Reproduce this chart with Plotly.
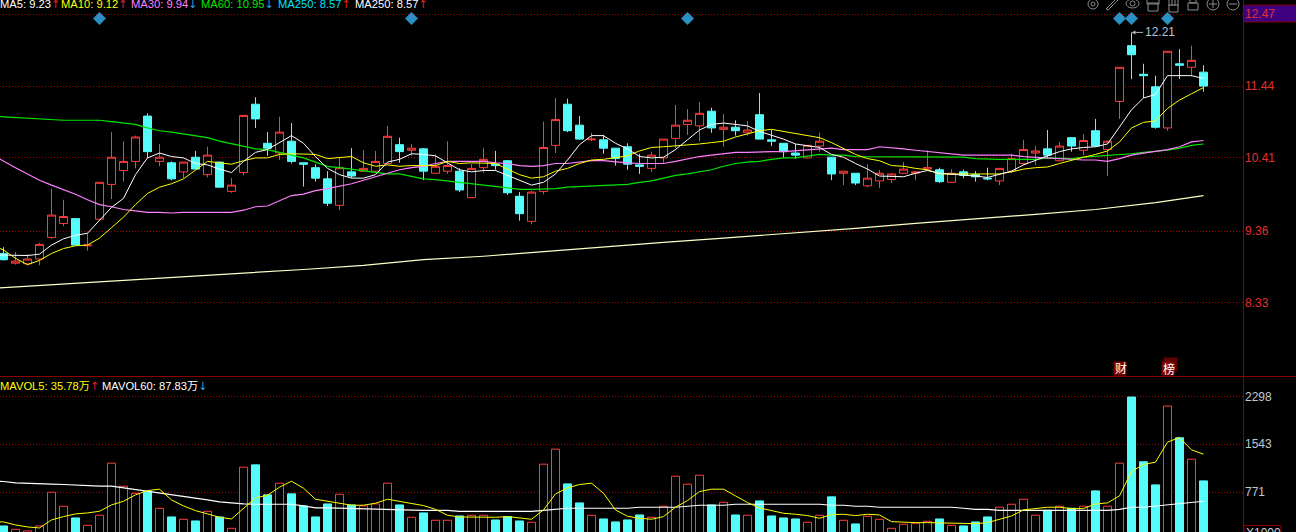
import plotly.graph_objects as go

days = list(range(101))
opens = [9.04,8.90,8.89,8.96,9.27,9.47,9.54,9.15,9.53,10.03,
10.23,10.36,11.01,10.36,10.34,10.21,10.42,10.17,10.35,9.93,
10.20,11.18,10.62,10.48,10.65,10.34,10.27,10.11,9.73,10.21,
10.22,10.22,10.33,10.60,10.52,10.54,10.19,10.22,10.22,9.84,
10.27,10.32,10.37,9.86,9.50,9.93,10.59,11.18,10.88,10.67,
10.67,10.55,10.57,10.31,10.26,10.41,10.69,10.89,10.87,11.08,
10.82,10.85,10.77,11.03,10.67,10.62,10.48,10.41,10.58,10.42,
10.19,10.19,10.01,10.08,10.10,10.19,10.19,10.25,10.24,10.06,
10.21,10.17,10.12,10.08,10.22,10.33,10.48,10.54,10.37,10.70,
10.52,10.80,10.53,11.22,12.02,11.61,11.43,10.84,11.76,11.71,11.64]
closes = [8.95,8.93,8.96,9.17,9.59,9.57,9.16,9.16,10.06,10.42,
10.36,10.71,10.50,10.42,10.11,10.35,10.25,10.45,9.99,10.02,
11.02,10.97,10.55,10.78,10.36,10.32,10.12,9.76,10.27,10.15,
10.26,10.36,10.72,10.50,10.55,10.22,10.29,10.30,9.95,10.26,
10.39,10.30,9.91,9.61,9.92,10.56,10.96,10.80,10.68,10.68,
10.55,10.40,10.32,10.29,10.45,10.68,10.88,10.95,11.05,10.84,
10.85,10.80,10.81,10.68,10.65,10.50,10.45,10.59,10.65,10.18,
10.22,10.05,10.12,10.19,10.18,10.25,10.21,10.27,10.07,10.19,
10.16,10.14,10.11,10.26,10.40,10.53,10.51,10.45,10.58,10.58,
10.66,10.58,10.65,11.71,11.89,11.59,10.85,11.94,11.74,11.81,11.44]
highs = [9.13,9.06,9.03,9.19,9.97,9.81,9.54,9.33,10.06,10.78,
10.65,10.73,11.05,10.61,10.36,10.35,10.51,10.57,10.36,10.12,
11.02,11.28,10.78,11.00,10.91,10.34,10.32,10.22,10.41,10.55,
10.52,10.51,10.87,10.70,10.61,10.55,10.46,10.65,10.26,10.32,
10.55,10.51,10.38,9.92,9.94,10.93,11.27,11.26,11.01,10.77,
10.74,10.55,10.62,10.47,10.50,10.68,11.17,11.11,11.21,11.13,
11.04,10.95,10.94,11.34,10.81,10.62,10.61,10.59,10.77,10.42,
10.22,10.19,10.32,10.24,10.19,10.35,10.22,10.52,10.27,10.25,
10.24,10.22,10.27,10.26,10.47,10.67,10.58,10.81,10.64,10.70,
10.75,10.97,10.66,11.71,12.21,11.76,11.59,11.94,11.97,12.02,11.74]
lows = [8.94,8.88,8.87,8.87,9.25,9.43,9.16,9.08,9.53,9.82,
10.07,10.26,10.41,10.29,10.09,10.12,10.25,10.13,9.99,9.91,
10.16,10.84,10.44,10.38,10.33,10.00,10.07,9.72,9.66,10.12,
10.21,10.19,10.31,10.34,10.44,10.09,10.19,10.18,9.92,9.84,
10.19,10.24,9.88,9.51,9.46,9.89,10.48,10.78,10.67,10.65,
10.47,10.30,10.24,10.18,10.21,10.34,10.55,10.74,10.65,10.77,
10.57,10.73,10.73,10.68,10.58,10.42,10.40,10.40,10.50,10.09,
10.02,10.02,9.99,9.98,10.05,10.18,10.09,10.22,10.05,10.05,
10.12,10.07,10.09,10.02,10.19,10.31,10.31,10.40,10.36,10.50,
10.45,10.57,10.15,10.97,11.54,11.27,10.83,10.80,11.54,11.58,11.36]

# moving-average lines start one session before the first visible candle
line_days = [-1] + days
ma5 = [9.02,9.02,9.02,9.01,9.03,9.16,9.25,9.30,9.33,9.52,9.70,9.83,10.17,10.41,10.48,10.43,10.41,10.33,10.31,10.25,10.20,
10.36,10.49,10.53,10.63,10.73,10.62,10.43,10.26,10.17,10.12,10.12,10.17,10.35,10.39,10.47,10.46,10.44,
10.34,10.24,10.21,10.23,10.23,10.16,10.08,10.02,10.06,10.18,10.38,10.60,10.73,10.73,10.62,10.54,10.43,10.41,10.42,
10.53,10.67,10.81,10.89,10.91,10.89,10.87,10.79,10.74,10.68,10.61,10.59,10.56,10.46,10.42,10.33,10.25,
10.15,10.14,10.14,10.19,10.23,10.19,10.18,10.17,10.15,10.13,10.18,10.22,10.31,10.38,10.44,10.50,10.54,10.56,10.57,10.61,
10.85,11.10,11.27,11.32,11.59,11.59,11.59,11.55]
ma10 = [9.16,9.09,8.97,8.88,8.94,9.04,9.11,9.15,9.16,9.26,9.41,9.56,9.74,9.90,9.99,10.04,10.11,10.24,10.36,10.34,10.32,
10.37,10.41,10.41,10.46,10.47,10.46,10.46,10.40,10.41,10.43,10.34,10.29,10.31,10.29,10.30,10.30,10.30,
10.36,10.33,10.34,10.34,10.33,10.25,10.17,10.12,10.14,10.22,10.26,10.33,10.38,10.39,10.41,10.44,10.51,10.56,10.57,
10.58,10.59,10.61,10.63,10.65,10.71,10.75,10.80,10.82,10.79,10.75,10.72,10.70,10.63,10.54,10.46,10.40,
10.37,10.30,10.29,10.26,10.24,10.18,10.18,10.17,10.17,10.17,10.18,10.21,10.25,10.27,10.28,10.33,10.38,10.42,10.46,10.51,
10.64,10.84,10.92,10.94,11.12,11.24,11.33,11.42]
ma30 = [10.46,10.36,10.27,10.18,10.09,10.02,9.96,9.89,9.81,9.74,9.71,9.67,9.65,9.63,9.63,9.62,9.63,9.63,9.63,9.63,9.63,
9.66,9.71,9.72,9.80,9.87,9.89,9.94,9.97,10.00,10.04,10.09,10.14,10.19,10.24,10.27,10.29,10.33,
10.36,10.36,10.36,10.36,10.34,10.33,10.30,10.29,10.30,10.33,10.33,10.35,10.37,10.37,10.35,10.34,10.33,10.33,10.33,
10.36,10.40,10.43,10.45,10.47,10.49,10.49,10.50,10.50,10.50,10.51,10.52,10.54,10.55,10.53,10.53,10.53,
10.57,10.56,10.54,10.52,10.50,10.49,10.47,10.45,10.45,10.45,10.45,10.45,10.43,10.42,10.41,10.39,10.39,10.38,10.38,10.36,
10.40,10.45,10.48,10.50,10.53,10.57,10.64,10.66]
ma60 = [11.01,11.00,10.99,10.97,10.96,10.96,10.95,10.95,10.95,10.95,10.93,10.91,10.89,10.84,10.80,10.78,10.75,10.72,10.70,10.65,10.61,
10.57,10.54,10.53,10.49,10.46,10.41,10.35,10.29,10.27,10.25,10.22,10.21,10.18,10.18,10.15,10.11,10.10,
10.08,10.06,10.04,10.02,10.00,9.97,9.96,9.96,9.96,9.97,9.99,10.00,10.00,10.02,10.02,10.03,10.06,10.08,10.12,
10.16,10.18,10.21,10.24,10.29,10.33,10.35,10.36,10.39,10.41,10.41,10.44,10.46,10.45,10.45,10.43,10.43,
10.43,10.43,10.43,10.43,10.43,10.43,10.43,10.42,10.40,10.39,10.39,10.39,10.39,10.39,10.41,10.41,10.40,10.42,10.43,10.44,
10.45,10.47,10.49,10.50,10.52,10.55,10.59,10.61]
ma250_days = [-1,0,5,10,15,20,25,30,35,40,45,50,55,60,65,70,71,76,81,86,91,96,100]
ma250 = [8.54,8.55,8.60,8.65,8.71,8.76,8.81,8.87,8.95,9.00,9.07,9.13,9.20,9.26,9.32,9.39,9.40,9.47,9.53,9.60,9.67,9.77,9.87]

volume = [230,176,150,230,771,546,358,240,401,1236,867,754,786,513,374,337,310,465,374,192,
1172,1209,728,915,744,551,374,583,738,567,551,583,915,567,369,439,321,
321,390,401,401,326,380,310,289,1220,1461,904,599,401,342,294,326,406,369,546,
1027,899,1043,567,610,406,401,631,390,358,342,289,401,696,321,262,385,
337,192,257,273,305,342,240,230,294,374,530,578,658,401,481,546,513,546,792,546,
1236,2296,1258,888,2152,1643,1300,952]
mavol5 = [300,294,246,214,198,326,380,423,439,465,567,626,728,797,819,647,551,476,423,369,342,
514,679,722,851,947,835,658,626,594,562,562,594,658,626,583,556,497,
401,374,369,369,369,380,364,337,487,744,840,894,915,754,487,385,353,337,380,
530,637,781,819,819,712,605,519,476,433,417,396,353,412,417,396,417,
406,299,289,283,283,278,283,267,267,283,331,390,487,514,530,530,508,508,583,599,
712,1102,1215,1252,1573,1648,1450,1381]
mavol60 = [950,942,920,910,899,899,894,883,883,867,867,840,819,787,754,728,706,679,647,615,594,
583,578,578,578,578,551,519,519,514,503,497,497,497,481,481,481,481,
481,465,465,465,465,465,465,465,481,497,514,514,514,514,514,514,530,530,530,
530,546,562,562,562,578,578,578,578,578,578,578,578,562,562,546,546,
530,530,530,530,530,530,530,514,497,497,481,481,481,481,481,481,481,481,481,481,
497,530,530,551,572,594,610,626]

price_ticks = [12.47, 11.44, 10.41, 9.36, 8.33]
volume_ticks = [2298, 1543, 771]
signal_days = [8, 34, 57, 93, 94, 97]
signal_level = [12.41] * 6
peak_day = 94
peak_value = 12.21

for s in (opens, closes, highs, lows, volume):
    assert len(s) == 101, len(s)
for s in (ma5, ma10, ma30, ma60, mavol5, mavol60):
    assert len(s) == 102, len(s)

W, H, PLOT_R, DIV = 1296, 532, 1243, 376.5
RED = "#ff3c3c"; CYAN = "#54fcfc"; GRID = "#a00000"
DOTS = "1px,2px"
FONT = "Liberation Sans, Arial, Noto Sans CJK SC, sans-serif"
fx = lambda p: p / W
fy = lambda p: 1 - p / H

fig = go.Figure()
up = [c >= o for o, c in zip(opens, closes)]
fig.add_trace(go.Bar(x=days, y=volume, yaxis="y2", width=0.6667,
    marker=dict(color=["#000000" if u else CYAN for u in up],
                line=dict(color=[RED if u else CYAN for u in up], width=1))))
fig.add_trace(go.Scatter(x=line_days, y=mavol60, yaxis="y2", mode="lines", line=dict(color="#ffffff", width=1.2)))
fig.add_trace(go.Scatter(x=line_days, y=mavol5, yaxis="y2", mode="lines", line=dict(color="#ffff00", width=1)))
fig.add_trace(go.Candlestick(x=days, open=opens, high=highs, low=lows, close=closes, whiskerwidth=0,
    increasing=dict(line=dict(color=RED, width=1), fillcolor="#000000"),
    decreasing=dict(line=dict(color=CYAN, width=1), fillcolor=CYAN)))
for series, color, w in ((ma60, "#00e600", 1.2), (ma30, "#ff80ff", 1.2), (ma10, "#ffff00", 1), (ma5, "#ffffff", 1)):
    fig.add_trace(go.Scatter(x=line_days, y=series, mode="lines", line=dict(color=color, width=w)))
fig.add_trace(go.Scatter(x=ma250_days, y=ma250, mode="lines", line=dict(color="#ffffc8", width=1.2)))
fig.add_trace(go.Scatter(x=signal_days, y=signal_level, mode="markers",
    marker=dict(symbol="diamond", size=10, color="#2a90c6")))

ann = []
def label(px, py, text, color, size=11.2):
    ann.append(dict(x=fx(px), y=fy(py), xref="paper", yref="paper", text=text, showarrow=False, borderpad=0,
                    xanchor="left", yanchor="middle", font=dict(family=FONT, size=size, color=color)))

UP = "<span style='color:#e02020;font-family:DejaVu Sans'>↑</span>"
DN = "<span style='color:#2e9fd0;font-family:DejaVu Sans'>↓</span>"
for px, text, color in [(-1, "MA5: 9.23" + UP, "#ffffff"), (60, "MA10: 9.12" + UP, "#ffff00"),
                        (130, "MA30: 9.94" + DN, "#ff80ff"), (200, "MA60: 10.95" + DN, "#00e600"),
                        (277, "MA250: 8.57" + UP, "#00e0ff"), (354, "MA250: 8.57" + UP, "#ffffff")]:
    label(px, 4, text, color)
for px, text, color in [(-1, "MAVOL5: 35.78万" + UP, "#ffff00"), (101, "MAVOL60: 87.83万" + DN, "#ffffff")]:
    label(px, 387, text, color)
label(1245, 533, "X1000", "#c8d0d8", 12)
for px, text in [(1114, "财"), (1162, "榜")]:
    label(px, 369, text, "#ffffff", 12)
ann.append(dict(x=peak_day, y=peak_value, xref="x", yref="y", text=str(peak_value), showarrow=True,
                ax=28, ay=0, arrowhead=2, arrowsize=0.8, arrowwidth=1, arrowcolor="#b0b0b0",
                font=dict(family=FONT, size=12, color="#b4c4dc")))

shapes = []
def shape(kind, x0, y0, x1, y1, line="#8c8c8c", fill=None, w=1, layer="above"):
    shapes.append(dict(type=kind, xref="paper", yref="paper", x0=fx(x0), x1=fx(x1), y0=fy(y0), y1=fy(y1),
                       line=dict(color=line, width=w), fillcolor=fill, layer=layer))

shape("rect", 1243.5, 5, 1296, 22, line="#800000", fill="#3f0080", layer="below")
shape("line", 0, DIV, W, DIV, line="#8a0000", w=1)
shape("line", PLOT_R + 0.5, 0, PLOT_R + 0.5, H, line="#8a0000", w=1)
shape("rect", 1244, 525.5, 1281, 545, line="#8a0000", layer="below")
shape("rect", 1164, 358, 1177, 371, line="#600000", fill="#600000", layer="below")
shape("rect", 1114, 362, 1126, 375, line="#7c0000", fill="#7c0000", layer="below")
shape("rect", 1162, 362, 1174, 375, line="#7c0000", fill="#7c0000", layer="below")
# toolbar icons
shape("circle", 1088, -1, 1098, 9); shape("circle", 1091, 2, 1095, 6)
shape("line", 1106, 9, 1116, -1); shape("line", 1108, 10, 1118, 0); shape("line", 1106, 9, 1108, 10)
shape("circle", 1126, -1, 1139, 8); shape("circle", 1130, 1, 1135, 6)
shape("rect", 1148, 3, 1158, 11); shape("rect", 1147, -1, 1159, 4)
for hx in (1169, 1172, 1175, 1178):
    shape("line", hx, -1, hx, 6)
shape("rect", 1169, 5, 1178, 12)
shape("rect", 1188, 3, 1198, 10); shape("rect", 1190, -2, 1196, 3)
shape("circle", 1207, -2, 1219, 10); shape("line", 1209, 4, 1217, 4); shape("line", 1213, 0, 1213, 8)
shape("circle", 1227, -2, 1239, 10); shape("line", 1229, 4, 1237, 4)

fig.update_layout(
    width=W, height=H, margin=dict(l=0, r=0, t=0, b=0), showlegend=False,
    paper_bgcolor="#000000", plot_bgcolor="#000000", boxgap=0.3333, boxgroupgap=0, hovermode=False,
    annotations=ann, shapes=shapes,
    xaxis=dict(domain=[0, PLOT_R / W], range=[-0.29167, 103.29167], visible=False, anchor="y2",
               rangeslider=dict(visible=False), showgrid=False, zeroline=False),
    yaxis=dict(domain=[1 - DIV / H, 1], range=[7.275, 12.675], side="right", anchor="x",
               tickmode="array", tickvals=price_ticks, ticktext=[str(v) for v in price_ticks],
               tickfont=dict(family=FONT, size=12, color="#e03030"), ticklabelstandoff=1,
               showgrid=True, gridcolor=GRID, griddash=DOTS, gridwidth=1, zeroline=False, ticks=""),
    yaxis2=dict(domain=[0, 1 - DIV / H], range=[133, 2625], side="right", anchor="x",
                tickmode="array", tickvals=volume_ticks, ticktext=[str(v) for v in volume_ticks],
                tickfont=dict(family=FONT, size=12, color="#c0c8d0"), ticklabelstandoff=1,
                showgrid=True, gridcolor=GRID, griddash=DOTS, gridwidth=1, zeroline=False, ticks=""),
)
fig.write_html("out.html", config=dict(displayModeBar=False),
               post_script="document.body.style.margin='0';document.documentElement.style.overflow='hidden';")
